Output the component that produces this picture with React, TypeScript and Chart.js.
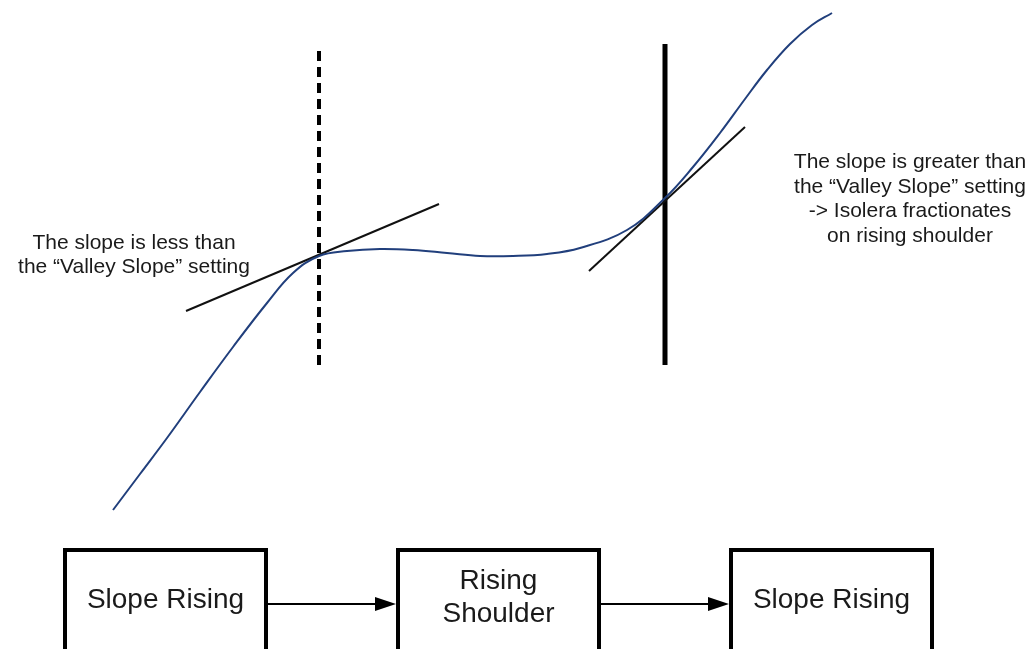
import React, { useEffect, useRef } from "react";
import { Chart, registerables } from "chart.js";

Chart.register(...registerables);

// Chromatogram trace (x = time units, y = detector signal units)
const traceX = [113, 140, 167, 200, 233, 267, 293, 319, 347, 380, 413, 447, 480, 513, 547, 580, 627, 665, 693, 720, 745, 767, 790, 812, 832];
const traceY = [139, 175, 211, 257, 302, 346, 376, 393, 398, 400, 399, 396, 393, 393, 395, 401, 419, 451, 482, 516, 550, 579, 605, 624, 636];

// Tangent lines at the two inspection points
const tangentLessX = [186, 439];
const tangentLessY = [338, 445];
const tangentGreaterX = [589, 745];
const tangentGreaterY = [378, 522];

// Vertical markers
const valleyMarkX = [319, 319];
const valleyMarkY = [284, 602];
const fractionMarkX = [665, 665];
const fractionMarkY = [284, 605];

// Annotation texts
const leftNote = ["The slope is less than", "the \u201cValley Slope\u201d setting"];
const rightNote = [
  "The slope is greater than",
  "the \u201cValley Slope\u201d setting",
  "-> Isolera fractionates",
  "on rising shoulder",
];
const stateBoxes = [["Slope Rising"], ["Rising", "Shoulder"], ["Slope Rising"]];

const zip = (xs: number[], ys: number[]) => xs.map((x, i) => ({ x, y: ys[i] }));

export default function App() {
  const ref = useRef<HTMLCanvasElement | null>(null);
  useEffect(() => {
    document.body.style.margin = "0";
    const canvas = ref.current!;
    const font = 'Arial, "Liberation Sans", sans-serif';
    const annot = {
      id: "annot",
      afterDraw(chart: any) {
        const ctx = chart.ctx as CanvasRenderingContext2D;
        const xs = chart.scales.x;
        const ys = chart.scales.y;
        const px = (v: number) => xs.getPixelForValue(v);
        const py = (v: number) => ys.getPixelForValue(v);
        ctx.save();
        ctx.fillStyle = "#1a1a1a";
        ctx.textAlign = "center";
        ctx.textBaseline = "alphabetic";
        ctx.font = "21px " + font;
        leftNote.forEach((t, i) => ctx.fillText(t, px(134), py(400) + i * 24));
        rightNote.forEach((t, i) => ctx.fillText(t, px(910), py(481) + i * 24.5));

        // state boxes
        const boxL = [65, 398, 731];
        const boxW = 201;
        const top = py(99);
        ctx.lineWidth = 4;
        ctx.strokeStyle = "#000";
        ctx.font = "28px " + font;
        ctx.textBaseline = "middle";
        stateBoxes.forEach((lines, i) => {
          const l = px(boxL[i]);
          const r = px(boxL[i] + boxW);
          ctx.strokeRect(l, top, r - l, 140);
          const cx = (l + r) / 2;
          const cy = py(49);
          if (lines.length === 1) ctx.fillText(lines[0], cx, cy);
          else {
            ctx.fillText(lines[0], cx, cy - 19);
            ctx.fillText(lines[1], cx, cy + 14);
          }
        });
        // arrows
        const ay = py(45);
        ctx.lineWidth = 2;
        ctx.fillStyle = "#000";
        for (let i = 0; i < 2; i++) {
          const x0 = px(boxL[i] + boxW + 2);
          const x1 = px(boxL[i + 1] - 2);
          ctx.beginPath();
          ctx.moveTo(x0, ay);
          ctx.lineTo(x1 - 18, ay);
          ctx.stroke();
          ctx.beginPath();
          ctx.moveTo(x1, ay);
          ctx.lineTo(x1 - 21, ay - 7);
          ctx.lineTo(x1 - 21, ay + 7);
          ctx.closePath();
          ctx.fill();
        }
        ctx.restore();
      },
    };
    const chart = new Chart(canvas, {
      type: "line",
      data: {
        datasets: [
          {
            data: zip(traceX, traceY),
            borderColor: "#213f7c",
            borderWidth: 2,
            pointRadius: 0,
            tension: 0.4,
            fill: false,
          },
          {
            data: zip(tangentLessX, tangentLessY),
            borderColor: "#111",
            borderWidth: 2,
            pointRadius: 0,
          },
          {
            data: zip(tangentGreaterX, tangentGreaterY),
            borderColor: "#111",
            borderWidth: 2,
            pointRadius: 0,
          },
          {
            data: zip(valleyMarkX, valleyMarkY),
            borderColor: "#000",
            borderWidth: 4,
            borderDash: [10, 6],
            pointRadius: 0,
          },
          {
            data: zip(fractionMarkX, fractionMarkY),
            borderColor: "#000",
            borderWidth: 5,
            pointRadius: 0,
          },
        ],
      },
      options: {
        animation: false,
        responsive: false,
        events: [],
        layout: { padding: 0 },
        plugins: { legend: { display: false }, tooltip: { enabled: false } },
        scales: {
          x: { type: "linear", min: 0, max: 1035, display: false },
          y: { type: "linear", min: 0, max: 649, display: false },
        },
      },
      plugins: [annot],
    });
    return () => chart.destroy();
  }, []);
  return (
    <div style={{ width: 1035, height: 649, background: "#fff" }}>
      <canvas ref={ref} width={1035} height={649} style={{ display: "block" }} />
    </div>
  );
}
